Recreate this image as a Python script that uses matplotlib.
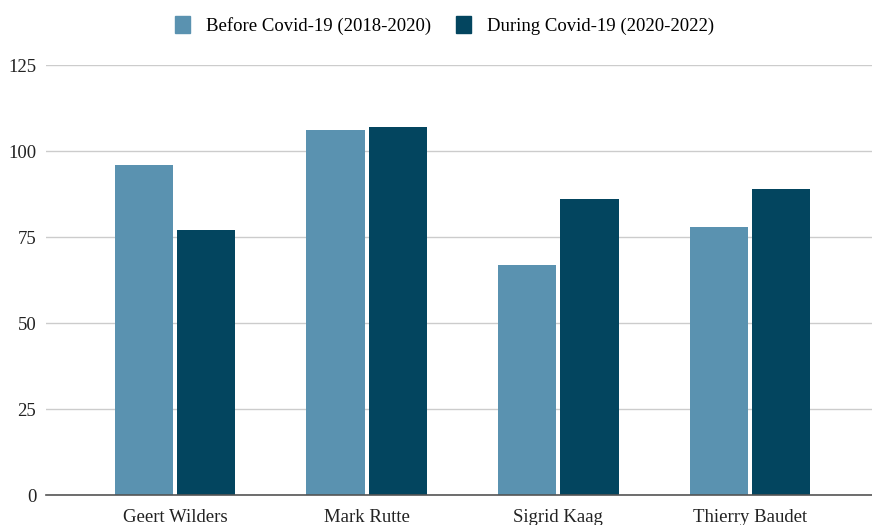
import matplotlib
matplotlib.use('Agg')
from matplotlib import pyplot as plt
from matplotlib.patches import Patch
import numpy as np

politicians = ['Geert Wilders', 'Mark Rutte', 'Sigrid Kaag', 'Thierry Baudet']
before_covid = [96, 106, 67, 78]
during_covid = [77, 107, 86, 89]
series_names = ['Before Covid-19 (2018-2020)', 'During Covid-19 (2020-2022)']
y_ticks = [0, 25, 50, 75, 100, 125]

plt.rcParams['font.family'] = ['Liberation Serif', 'DejaVu Serif']

color_before = '#5a92b0'
color_during = '#03455f'

fig = plt.figure(figsize=(8.72, 5.25), dpi=100)
ax = fig.add_axes([0.0528, 0.0571, 0.9472, 0.8190])

x = np.arange(len(politicians))
w = 0.305
ax.bar(x - w / 2 - 0.01, before_covid, w, color=color_before, zorder=3)
ax.bar(x + w / 2 + 0.01, during_covid, w, color=color_during, zorder=3)

ax.set_xlim(-0.673, 3.636)
ax.set_ylim(0, 125)
ax.set_yticks(y_ticks)
ax.set_xticks(x)
ax.set_xticklabels(politicians)
ax.grid(axis='y', color='#cccccc', linewidth=1, zorder=0)
ax.tick_params(axis='both', length=0, labelsize=13.5, colors='#222222')
ax.tick_params(axis='x', pad=10)
ax.tick_params(axis='y', pad=7)

for side in ['top', 'right', 'left']:
    ax.spines[side].set_visible(False)
ax.spines['bottom'].set_color('#555555')
ax.spines['bottom'].set_linewidth(1.2)
ax.spines['bottom'].set_zorder(4)

handles = [Patch(color=color_before), Patch(color=color_during)]
fig.legend(handles, series_names, loc='center', bbox_to_anchor=(0.5097, 0.952),
           ncol=2, frameon=False, fontsize=13.5, handlelength=0.8, handleheight=1.0,
           handletextpad=0.85, columnspacing=1.35)

fig.savefig('out.png', dpi=100)
